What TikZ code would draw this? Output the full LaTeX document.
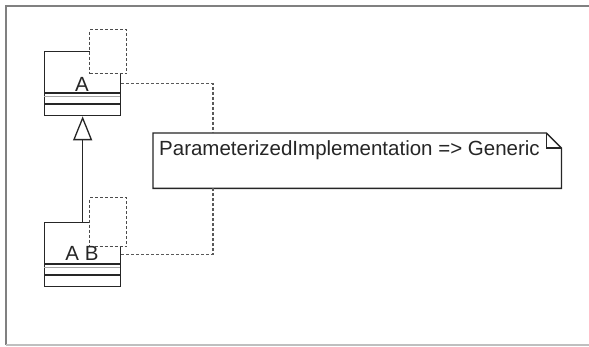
\documentclass[tikz,border=0pt]{standalone}
\usepackage{fontspec}
\setmainfont{Liberation Sans}
\usetikzlibrary{arrows.meta,calc}
\begin{document}
\begin{tikzpicture}[x=1pt,y=-1pt,
  ink/.style={draw=black!85, line width=1.3pt},
  classbox/.style={ink, fill=white, minimum width=76pt, minimum height=64pt, inner sep=0pt, anchor=north west},
  tparam/.style={draw=black!70, line width=1.2pt, dash pattern=on 3pt off 2pt, fill=white, minimum width=37pt, inner sep=0pt, anchor=north west},
  depend/.style={draw=black!65, line width=1.2pt, dash pattern=on 3pt off 2pt},
  lbl/.style={font=\fontsize{20.5}{23}\selectfont, inner sep=0pt, text=black!85},
  gen/.style={ink, -{Triangle[open, length=24pt, width=19pt, line width=1.3pt]}},
  notebox/.style={draw=none, minimum width=408pt, minimum height=55pt, inner sep=0pt, anchor=north west}
]
\useasboundingbox (0,0) rectangle (589,347);
% window frame
\draw[draw=black!50, line width=2pt] (6,345) -- (6,6) -- (589,6);
\draw[draw=black!25, line width=1.5pt] (6,345) -- (589,345);

% class A
\node[classbox] (A) at (44,51) {};
\draw[ink] ($(A.north west)+(0,42)$) -- ++(76,0);
\draw[draw=black!35, line width=1pt] ($(A.north west)+(0,46)$) -- ++(76,0);
\draw[ink] ($(A.north west)+(0,53)$) -- ++(76,0);
\node[tparam, minimum height=44pt] (Ap) at (89,29) {};
\node[lbl, anchor=base] (Al) at (82,92) {A};

% class AB
\node[classbox] (AB) at (44,222) {};
\draw[ink] ($(AB.north west)+(0,42)$) -- ++(76,0);
\draw[draw=black!35, line width=1pt] ($(AB.north west)+(0,46)$) -- ++(76,0);
\draw[ink] ($(AB.north west)+(0,53)$) -- ++(76,0);
\node[tparam, minimum height=49pt] (ABp) at (89,197) {};
\node[lbl, anchor=base] (ABl) at (82,261) {A B};

% generalization
\draw[gen] (AB.north) -- (A.south);

% note
\node[notebox] (N) at (153,133) {};
\draw[ink, fill=white] (N.north west) -- ($(N.north east)+(-15,0)$) -- ($(N.north east)+(0,15)$) -- (N.south east) -- (N.south west) -- cycle;
\draw[ink] ($(N.north east)+(-15,0)$) -- ($(N.north east)+(-15,15)$) -- ($(N.north east)+(0,15)$);
\node[lbl, anchor=base west] (Nt) at (159,156) {ParameterizedImplementation => Generic};

% dependencies to note
\draw[depend] (A.east) -| ($(N.north west)+(60,0)$);
\draw[depend] (AB.east) -| ($(N.south west)+(60,0)$);
\end{tikzpicture}
\end{document}
